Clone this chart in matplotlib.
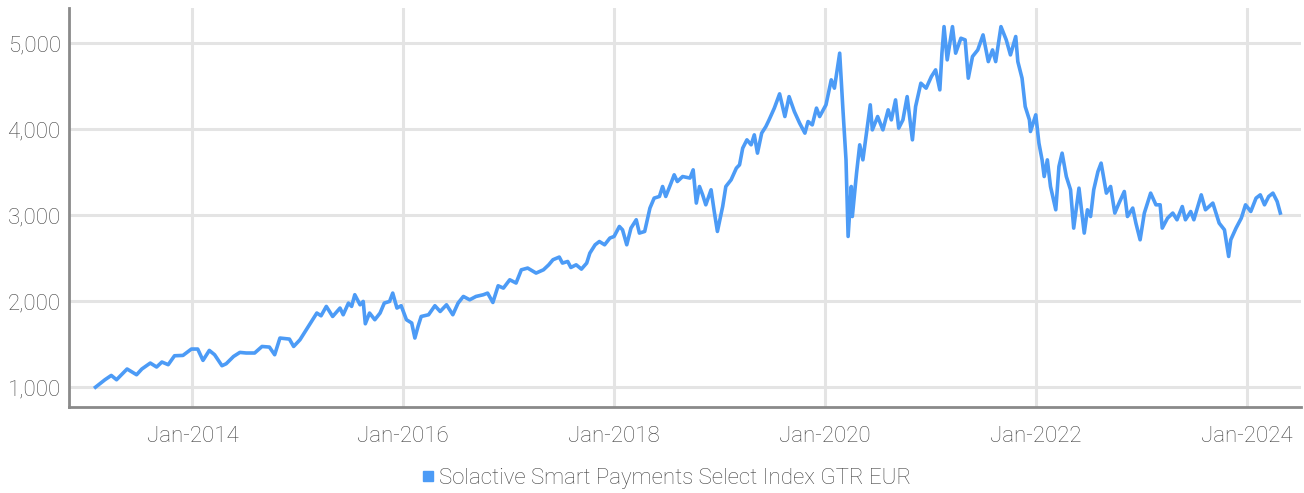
import matplotlib.pyplot as plt
from matplotlib.lines import Line2D

plt.rcParams['font.family'] = ['Roboto', 'DejaVu Sans']
plt.rcParams['font.weight'] = 'light'

# index level, time as decimal year
years = [2013.08, 2013.17, 2013.23, 2013.28, 2013.38, 2013.47, 2013.52, 2013.60, 2013.66, 2013.71,
         2013.77, 2013.83, 2013.91, 2013.99, 2014.05, 2014.10, 2014.16, 2014.21, 2014.28, 2014.32,
         2014.39, 2014.45, 2014.51, 2014.59, 2014.66, 2014.73, 2014.78, 2014.83, 2014.92, 2014.96,
         2015.02, 2015.08, 2015.18, 2015.22, 2015.27, 2015.33, 2015.40, 2015.43, 2015.48, 2015.51,
         2015.54, 2015.59, 2015.62, 2015.64, 2015.68, 2015.73, 2015.78, 2015.82, 2015.87, 2015.90,
         2015.94, 2015.98, 2016.03, 2016.08, 2016.11, 2016.14, 2016.17, 2016.24, 2016.30, 2016.35,
         2016.41, 2016.47, 2016.52, 2016.57, 2016.63, 2016.69, 2016.76, 2016.80, 2016.85, 2016.90,
         2016.95, 2017.01, 2017.07, 2017.12, 2017.18, 2017.26, 2017.33, 2017.38, 2017.42, 2017.48,
         2017.51, 2017.56, 2017.59, 2017.64, 2017.69, 2017.74, 2017.77, 2017.82, 2017.86, 2017.91,
         2017.96, 2018.00, 2018.05, 2018.08, 2018.12, 2018.16, 2018.21, 2018.24, 2018.29, 2018.34,
         2018.38, 2018.43, 2018.46, 2018.49, 2018.54, 2018.57, 2018.60, 2018.65, 2018.72, 2018.75,
         2018.78, 2018.81, 2018.84, 2018.87, 2018.92, 2018.95, 2018.98, 2019.03, 2019.06, 2019.11,
         2019.16, 2019.19, 2019.22, 2019.26, 2019.30, 2019.33, 2019.36, 2019.40, 2019.44, 2019.47,
         2019.52, 2019.57, 2019.62, 2019.66, 2019.71, 2019.76, 2019.81, 2019.84, 2019.88, 2019.92,
         2019.95, 2020.01, 2020.06, 2020.09, 2020.14, 2020.17, 2020.20, 2020.22, 2020.25, 2020.26,
         2020.30, 2020.33, 2020.36, 2020.39, 2020.43, 2020.45, 2020.50, 2020.55, 2020.60, 2020.63,
         2020.67, 2020.70, 2020.74, 2020.78, 2020.83, 2020.86, 2020.91, 2020.96, 2021.01, 2021.05,
         2021.09, 2021.11, 2021.13, 2021.16, 2021.21, 2021.24, 2021.29, 2021.33, 2021.36, 2021.40,
         2021.45, 2021.50, 2021.55, 2021.59, 2021.62, 2021.67, 2021.72, 2021.76, 2021.81, 2021.83,
         2021.87, 2021.90, 2021.94, 2021.95, 2022.00, 2022.03, 2022.06, 2022.08, 2022.11, 2022.14,
         2022.19, 2022.22, 2022.25, 2022.29, 2022.33, 2022.36, 2022.41, 2022.46, 2022.49, 2022.52,
         2022.55, 2022.59, 2022.62, 2022.67, 2022.71, 2022.75, 2022.79, 2022.84, 2022.87, 2022.92,
         2022.95, 2022.99, 2023.03, 2023.09, 2023.14, 2023.18, 2023.20, 2023.25, 2023.30, 2023.34,
         2023.39, 2023.42, 2023.47, 2023.50, 2023.57, 2023.61, 2023.68, 2023.74, 2023.79, 2023.83,
         2023.85, 2023.90, 2023.95, 2023.99, 2024.04, 2024.09, 2024.13, 2024.17, 2024.21, 2024.25,
         2024.29, 2024.32]
values = [1000, 1087, 1137, 1087, 1212, 1145, 1212, 1281, 1235, 1293,
          1262, 1366, 1370, 1444, 1444, 1312, 1428, 1378, 1250, 1273,
          1358, 1405, 1398, 1398, 1474, 1467, 1378, 1572, 1560, 1474,
          1552, 1669, 1863, 1831, 1940, 1823, 1921, 1843, 1979, 1940,
          2076, 1959, 1998, 1738, 1863, 1785, 1863, 1979, 1998, 2095,
          1921, 1948, 1785, 1747, 1572, 1707, 1823, 1843, 1948, 1881,
          1959, 1843, 1979, 2056, 2017, 2056, 2076, 2095, 1986, 2180,
          2153, 2250, 2212, 2366, 2386, 2328, 2366, 2424, 2483, 2514,
          2444, 2463, 2393, 2424, 2374, 2444, 2560, 2657, 2695, 2657,
          2735, 2754, 2870, 2831, 2657, 2851, 2948, 2793, 2812, 3084,
          3200, 3219, 3335, 3219, 3374, 3471, 3393, 3451, 3433, 3529,
          3142, 3335, 3238, 3122, 3297, 3044, 2812, 3102, 3335, 3413,
          3549, 3587, 3781, 3878, 3820, 3936, 3723, 3956, 4033, 4110,
          4247, 4413, 4149, 4381, 4207, 4072, 3956, 4091, 4052, 4247,
          4149, 4285, 4576, 4479, 4886, 4247, 3645, 2754, 3335, 2986,
          3491, 3820, 3645, 3916, 4285, 3994, 4149, 3994, 4227, 4110,
          4343, 4014, 4110, 4381, 3878, 4265, 4537, 4479, 4614, 4692,
          4459, 4886, 5195, 4808, 5195, 4886, 5060, 5041, 4595, 4847,
          4924, 5099, 4788, 4924, 4788, 5195, 5041, 4866, 5080, 4788,
          4595, 4265, 4110, 3975, 4169, 3840, 3645, 3451, 3645, 3335,
          3064, 3567, 3723, 3451, 3297, 2851, 3316, 2793, 3064, 2986,
          3297, 3509, 3607, 3258, 3335, 3026, 3142, 3277, 2986, 3084,
          2909, 2715, 3026, 3258, 3122, 3122, 2851, 2967, 3026, 2948,
          3102, 2948, 3044, 2948, 3238, 3064, 3142, 2909, 2831, 2521,
          2715, 2851, 2967, 3122, 3044, 3200, 3238, 3122, 3219, 3258,
          3161, 3026]

series_name = 'Solactive Smart Payments Select Index GTR EUR'
x_ticks = [2014, 2016, 2018, 2020, 2022, 2024]
x_labels = ['Jan-2014', 'Jan-2016', 'Jan-2018', 'Jan-2020', 'Jan-2022', 'Jan-2024']
y_ticks = [1000, 2000, 3000, 4000, 5000]

blue = '#4c9bf6'
text_col = '#444444'

fig = plt.figure(figsize=(13.04, 4.93), dpi=100)
ax = fig.add_axes([0.053, 0.175, 0.945, 0.809])

ax.plot(years, values, color=blue, linewidth=2.6, solid_joinstyle='round')

ax.set_xlim(2012.83, 2024.52)
ax.set_ylim(773, 5413)
ax.set_xticks(x_ticks)
ax.set_xticklabels(x_labels)
ax.set_yticks(y_ticks)
ax.set_yticklabels([f'{v:,}' for v in y_ticks])

ax.grid(True, color='#e4e4e4', linewidth=2.2)
ax.set_axisbelow(True)
ax.tick_params(length=0, labelsize=16, colors=text_col)
ax.tick_params(axis='y', pad=6)
ax.tick_params(axis='x', pad=14)

for side in ['top', 'right']:
    ax.spines[side].set_visible(False)
for side in ['left', 'bottom']:
    ax.spines[side].set_color('#8a8a8a')
    ax.spines[side].set_linewidth(2)

handle = Line2D([], [], linestyle='none', marker='s', markersize=7,
                markerfacecolor=blue, markeredgecolor=blue)
fig.legend([handle], [series_name], loc='center', bbox_to_anchor=(0.51, 0.03),
           frameon=False, fontsize=16, labelcolor=text_col,
           handletextpad=0.1, handlelength=0.8, borderaxespad=0)

fig.savefig('out.png', dpi=100)
